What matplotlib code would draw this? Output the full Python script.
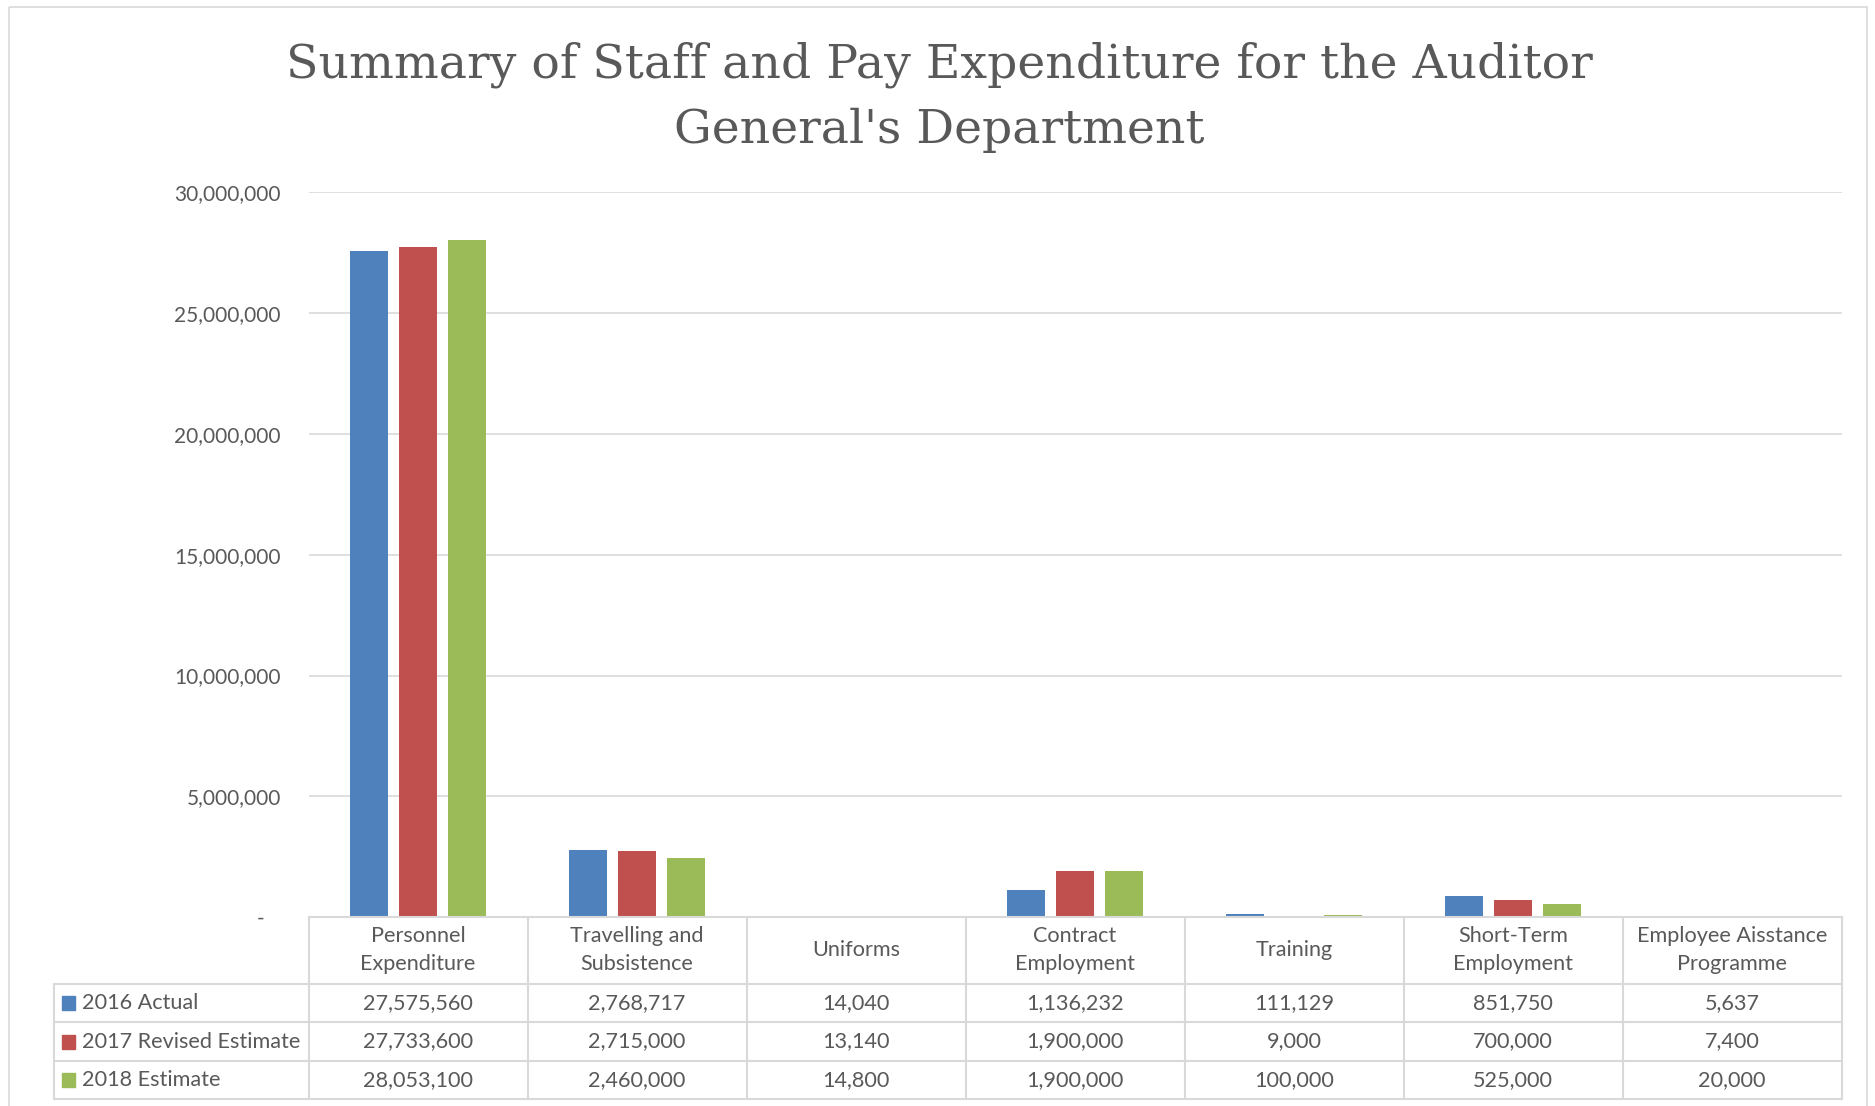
import numpy as np
import matplotlib.pyplot as plt
from matplotlib.lines import Line2D
from matplotlib.patches import Rectangle
from matplotlib.ticker import FuncFormatter
from matplotlib.transforms import blended_transform_factory

plt.rcParams['font.family'] = ['Lato', 'DejaVu Sans']

#Chart data
title = "Summary of Staff and Pay Expenditure for the Auditor\nGeneral's Department"
categories = ["Personnel\nExpenditure", "Travelling and\nSubsistence", "Uniforms",
              "Contract\nEmployment", "Training", "Short-Term\nEmployment",
              "Employee Aisstance\nProgramme"]
series_names = ["2016 Actual", "2017 Revised Estimate", "2018 Estimate"]
actual_2016 = [27575560, 2768717, 14040, 1136232, 111129, 851750, 5637]
revised_2017 = [27733600, 2715000, 13140, 1900000, 9000, 700000, 7400]
estimate_2018 = [28053100, 2460000, 14800, 1900000, 100000, 525000, 20000]
series_values = [actual_2016, revised_2017, estimate_2018]
yticks = [0, 5000000, 10000000, 15000000, 20000000, 25000000, 30000000]

colors = ["#4F81BD", "#C0504D", "#9BBB59"]
textcol = "#595959"
gridcol = "#D9D9D9"

W, H = 1875, 1106
fig = plt.figure(figsize=(W/100, H/100), dpi=100)

#Plot area in pixels (from top-left)
px_left, px_right, px_top, px_bottom = 308.5, 1841.5, 192.5, 917
ax = fig.add_axes([px_left/W, (H-px_bottom)/H, (px_right-px_left)/W, (px_bottom-px_top)/H])

x = np.arange(len(categories))
bar_w = 0.175
step = 0.224
for k, (vals, col) in enumerate(zip(series_values, colors)):
    ax.bar(x + (k-1)*step, vals, width=bar_w, color=col, zorder=3)

ax.set_xlim(-0.5, len(categories)-0.5)
ax.set_ylim(0, 30000000)
ax.set_yticks(yticks)
ax.yaxis.set_major_formatter(FuncFormatter(lambda v, p: f"{int(v):,}" if v else "-   "))
ax.tick_params(axis='y', length=0, pad=20, labelsize=15, labelcolor=textcol)
ax.set_xticks([])
ax.grid(axis='y', color=gridcol, lw=1.2, zorder=0)
for s in ax.spines.values():
    s.set_visible(False)

#Overlay in figure pixels for the frame, title and data table
ov = fig.add_axes([0, 0, 1, 1], zorder=-1)
ov.set_xlim(0, W)
ov.set_ylim(H, 0)
ov.axis('off')
ov.add_patch(Rectangle((9, 7), 1858, H + 20, fill=False, ec=gridcol, lw=1.2))

for i, line in enumerate(title.split("\n")):
    ov.text(W/2 + 2, [78, 143][i], line, ha='center', va='baseline', fontsize=34,
            color=textcol, family=['DejaVu Serif'])

#Data table below the bars, columns follow the category axis
tr = blended_transform_factory(ax.transData, ov.transData)
table_top, header_bot = 917, 984
row_lines = [984, 1022, 1061, 1099]
legend_left = 54
lw_tab = 1.5
fs_tab = 15.6

fig.add_artist(Line2D([px_left, px_right], [H-table_top, H-table_top], transform=None,
                      color=gridcol, lw=lw_tab))
for yy in row_lines:
    ov.plot([legend_left, px_right], [yy, yy], color=gridcol, lw=lw_tab, solid_capstyle='butt')
ov.plot([legend_left, legend_left], [header_bot, row_lines[-1]], color=gridcol, lw=lw_tab)
for b in np.arange(len(categories)+1) - 0.5:
    ov.plot([b, b], [table_top, row_lines[-1]], color=gridcol, lw=lw_tab, transform=tr)

for i, cat in enumerate(categories):
    ov.text(i, (table_top+header_bot)/2, cat, transform=tr, ha='center', va='center',
            fontsize=fs_tab, color=textcol, linespacing=1.5)

for r, (name, vals, col) in enumerate(zip(series_names, series_values, colors)):
    yc = (row_lines[r] + row_lines[r+1])/2
    ov.add_patch(Rectangle((62, yc-7), 13, 14, color=col))
    ov.text(82, yc, name, ha='left', va='center', fontsize=fs_tab, color=textcol)
    for i, v in enumerate(vals):
        ov.text(i, yc, f"{v:,}", transform=tr, ha='center', va='center', fontsize=fs_tab,
                color=textcol)

fig.savefig("out.png", dpi=100)
